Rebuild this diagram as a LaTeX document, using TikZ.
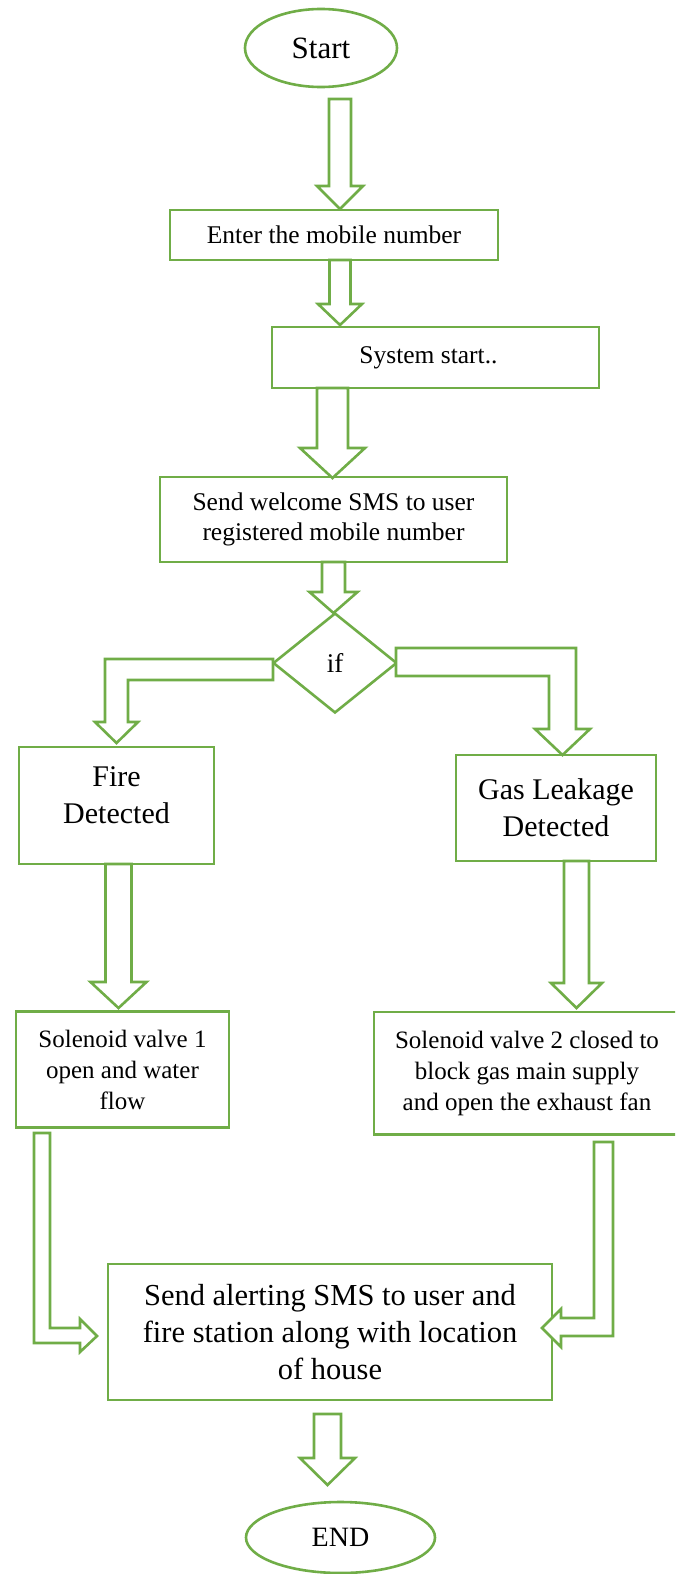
\documentclass[tikz,border=0pt]{standalone}
\usepackage{fontspec}
\setmainfont{Liberation Serif}
\usetikzlibrary{shapes.geometric}
\definecolor{grn}{HTML}{70AD47}
\newcommand\fsz[2]{\fontsize{#1}{#2}\selectfont}
% down block arrow: #1 centre x, #2 shaft half width, #3 top, #4 head base, #5 head half width, #6 tip
\newcommand\dblk[6]{\draw[blk] ({#1-#2},#3) -- ({#1+#2},#3) -- ({#1+#2},#4) -- ({#1+#5},#4) -- (#1,#6) -- ({#1-#5},#4) -- ({#1-#2},#4) -- cycle;}
\begin{document}
\begin{tikzpicture}[x=1pt,y=-1pt,line width=2.6pt,
  box/.style={draw=grn,rectangle,inner sep=0pt,align=center},
  oval/.style={draw=grn,ellipse,inner sep=0pt},
  blk/.style={draw=grn,fill=white,line join=miter}]
\clip (0,0) rectangle (675,1574);
\fill[white] (0,0) rectangle (675,1574);

% nodes
\node[oval,minimum width=152pt,minimum height=78pt,font=\fsz{31}{36}] (start) at (321,48) {Start};
\node[box,minimum width=328pt,minimum height=50pt,font=\fsz{25.5}{30}] (enter) at (334,235) {Enter the mobile number};
\node[box,minimum width=327pt,minimum height=61pt,font=\fsz{25.5}{30}] (system) at (435.5,357.5) {\hspace*{-14pt}System start..};
\node[box,minimum width=347pt,minimum height=85pt,font=\fsz{25.5}{30}] (welcome) at (333.5,519.5) {Send welcome SMS to user\\registered mobile number};
\node[draw=grn,diamond,inner sep=0pt,minimum width=124pt,minimum height=100pt,font=\fsz{27}{32}] (if) at (335,663) {if};
\node[box,minimum width=195pt,minimum height=117pt] (fire) at (116.5,805.5) {};
\node[align=center,font=\fsz{30}{37}] (firetxt) at ([yshift=10pt]fire.center) {Fire\\Detected};
\node[box,minimum width=200pt,minimum height=106pt,font=\fsz{30}{37}] (gas) at (556,808) {Gas Leakage\\Detected};
\node[box,minimum width=213pt,minimum height=116pt,font=\fsz{25}{31}] (sol1) at (122.5,1069.5) {Solenoid valve 1\\open and water\\flow};
\node[box,minimum width=306pt,minimum height=122.5pt,font=\fsz{25}{31}] (sol2) at (527,1073.25) {Solenoid valve 2 closed to\\block gas main supply\\and open the exhaust fan};
\node[box,minimum width=444pt,minimum height=136pt,font=\fsz{30.5}{37}] (alert) at (330,1332) {Send alerting SMS to user and\\fire station along with location\\of house};
\node[oval,minimum width=189pt,minimum height=71pt,font=\fsz{28}{33}] (end) at (340.5,1537.5) {END};

% block arrows
\dblk{340}{11}{99}{186}{23}{209}
\dblk{340}{10.5}{260}{304}{22}{325}
\dblk{332.5}{15.5}{388}{448}{32.5}{478}
\dblk{333.5}{11.5}{562}{592}{24}{613}
\dblk{118.5}{13}{864}{982}{28}{1008}
\dblk{576.5}{12.5}{861}{983}{25.5}{1008}
\dblk{327.5}{13.5}{1414}{1458}{27.5}{1485}

% elbow arrows from the decision
\draw[blk] (273,659) -- (105,659) -- (105,722) -- (95,722) -- (116.5,743) -- (138,722) -- (128,722) -- (128,680) -- (273,680) -- cycle;
\draw[blk] (396,648) -- (576,648) -- (576,729) -- (590,729) -- (562.5,755) -- (535,729) -- (549,729) -- (549,676) -- (396,676) -- cycle;

% elbow arrows into the alert box
\draw[blk] (34,1133) -- (50,1133) -- (50,1328) -- (80,1328) -- (80,1319) -- (97,1336) -- (80,1352) -- (80,1343) -- (34,1343) -- cycle;
\draw[blk] (594,1142) -- (613,1142) -- (613,1336) -- (561,1336) -- (561,1347) -- (542,1328) -- (561,1309) -- (561,1318) -- (594,1318) -- cycle;
\end{tikzpicture}
\end{document}
